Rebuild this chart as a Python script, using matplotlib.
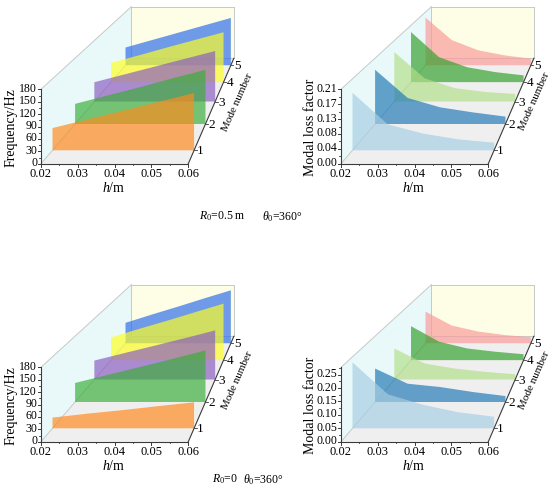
"""Natural frequency and modal loss factor vs. thickness h, pseudo-3D perspective panels."""
import matplotlib
matplotlib.use("Agg")
import matplotlib.pyplot as plt

plt.rcParams["font.family"] = ["Liberation Serif", "DejaVu Serif"]
plt.rcParams["mathtext.fontset"] = "custom"
plt.rcParams["mathtext.rm"] = "Liberation Serif"
plt.rcParams["mathtext.it"] = "Liberation Serif:italic"

# ---------- data ----------
H_VALUES = [0.02, 0.03, 0.04, 0.05, 0.06]
MODES = [1, 2, 3, 4, 5]

# frequency / Hz, one row per mode
FREQ_R05 = [
    [56, 78, 100, 122, 144],
    [55, 78, 101, 125, 148],
    [57, 80, 103, 126, 149],
    [61, 85, 110, 134, 158],
    [60, 85, 110, 135, 160],
]
FREQ_R0 = [
    [27, 37, 46, 56, 65.5],
    [52, 74, 96, 118, 141],
    [56, 78, 100, 122, 145],
    [72, 99, 125, 152, 179],
    [69, 97, 124, 152, 179],
]
# modal loss factor, one row per mode
LOSS_R05 = [
    [0.169, 0.076, 0.049, 0.032, 0.0225],
    [0.173, 0.083, 0.053, 0.037, 0.0235],
    [0.170, 0.080, 0.046, 0.033, 0.026],
    [0.185, 0.092, 0.055, 0.037, 0.025],
    [0.188, 0.099, 0.059, 0.039, 0.026],
]
LOSS_R0 = [
    [0.256, 0.132, 0.091, 0.062, 0.045],
    [0.141, 0.077, 0.063, 0.042, 0.025],
    [0.141, 0.073, 0.050, 0.035, 0.024],
    [0.166, 0.090, 0.057, 0.041, 0.029],
    [0.165, 0.092, 0.061, 0.043, 0.031],
]

FREQ_TICKS = [0, 30, 60, 90, 120, 150, 180]
LOSS_TICKS_R05 = [0, 0.042, 0.084, 0.126, 0.168, 0.21]
LOSS_LABELS_R05 = ["0.00", "0.04", "0.08", "0.13", "0.17", "0.21"]
LOSS_TICKS_R0 = [0, 0.05, 0.10, 0.15, 0.20, 0.25]
LOSS_LABELS_R0 = ["0.00", "0.05", "0.10", "0.15", "0.20", "0.25"]
X_TICKS = [0.02, 0.03, 0.04, 0.05, 0.06]

FREQ_COLORS = ["#ff8a1c", "#3aae3a", "#8a5cc0", "#ffff22", "#2a6be8"]
LOSS_COLORS = ["#a6cee3", "#1f78b4", "#b2df8a", "#33a02c", "#fb9a99"]

# ---------- projection geometry (pixels) ----------
FRONT_W = 147.3
FRONT_H = 74.4
VP_OFF = (296.7, -345.7)   # vanishing point relative to front-left-bottom corner
K_DEPTH = 0.0895
M_FRONT, M_BACK = 0.55, 5.45
H_MIN, H_MAX = 0.02, 0.06

AXIS_COL = "#3a3a3a"
EDGE_COL = "#c4caca"


def project(h, m, z, ox, oy, zmax):
    px = ox + (h - H_MIN) / (H_MAX - H_MIN) * FRONT_W
    py = oy - z / zmax * FRONT_H
    s = 1.0 / (1.0 + K_DEPTH * (m - M_FRONT))
    vx, vy = ox + VP_OFF[0], oy + VP_OFF[1]
    return vx + (px - vx) * s, vy + (py - vy) * s


def poly(ax, pts, **kw):
    xs, ys = zip(*pts)
    ax.fill(xs, ys, **kw)


def draw_panel(ax, ox, oy, zmax, data, colors, zticks, zlabels, ylabel, mode_lab_off):
    P = lambda h, m, z: project(h, m, z, ox, oy, zmax)
    # panes
    poly(ax, [P(H_MIN, M_FRONT, 0), P(H_MAX, M_FRONT, 0), P(H_MAX, M_BACK, 0),
              P(H_MIN, M_BACK, 0)], color="#efefef", lw=0, zorder=1)
    poly(ax, [P(H_MIN, M_FRONT, 0), P(H_MIN, M_FRONT, zmax), P(H_MIN, M_BACK, zmax),
              P(H_MIN, M_BACK, 0)], color="#e9f9f9", lw=0, zorder=1)
    poly(ax, [P(H_MIN, M_BACK, 0), P(H_MAX, M_BACK, 0), P(H_MAX, M_BACK, zmax),
              P(H_MIN, M_BACK, zmax)], color="#fefee6", lw=0, zorder=1)
    # pane edges
    edges = [
        ((H_MIN, M_FRONT, zmax), (H_MIN, M_BACK, zmax)),
        ((H_MIN, M_FRONT, 0), (H_MIN, M_BACK, 0)),
        ((H_MIN, M_BACK, zmax), (H_MAX, M_BACK, zmax)),
        ((H_MAX, M_BACK, zmax), (H_MAX, M_BACK, 0)),
        ((H_MIN, M_BACK, 0), (H_MAX, M_BACK, 0)),
        ((H_MIN, M_BACK, 0), (H_MIN, M_BACK, zmax)),
    ]
    for a, b in edges:
        (x0, y0), (x1, y1) = P(*a), P(*b)
        ax.plot([x0, x1], [y0, y1], color=EDGE_COL, lw=0.7, zorder=2)

    # filled curves, back to front
    for i in reversed(range(len(MODES))):
        m = MODES[i]
        top = [P(h, m, v) for h, v in zip(H_VALUES, data[i])]
        base = [P(h, m, 0) for h in reversed(H_VALUES)]
        poly(ax, top + base, color=colors[i], alpha=0.68, lw=0, zorder=3 + (5 - i))

    # z axis
    (x0, y0), (x1, y1) = P(H_MIN, M_FRONT, 0), P(H_MIN, M_FRONT, zmax)
    ax.plot([x0, x1], [y0, y1], color=AXIS_COL, lw=0.8, zorder=10)
    step = zticks[1] - zticks[0]
    for t, lab in zip(zticks, zlabels):
        x, y = P(H_MIN, M_FRONT, t)
        ax.plot([x - 3, x], [y, y], color=AXIS_COL, lw=0.7, zorder=10)
        ax.text(x - 4, y - 0.5, lab, ha="right", va="center", fontsize=8.5, zorder=10)
        if t + step / 2 <= zmax + 1e-9:
            x, ym = P(H_MIN, M_FRONT, t + step / 2)
            ax.plot([x - 1.6, x], [ym, ym], color=AXIS_COL, lw=0.6, zorder=10)
    ax.text(ox - 30, oy - 36, ylabel, rotation=90, ha="center", va="center",
            fontsize=10, zorder=10)

    # x axis
    (x0, y0), (x1, y1) = P(H_MIN, M_FRONT, 0), P(H_MAX, M_FRONT, 0)
    ax.plot([x0, x1], [y0, y1], color=AXIS_COL, lw=0.8, zorder=10)
    for j, t in enumerate(X_TICKS):
        x, y = P(t, M_FRONT, 0)
        ax.plot([x, x], [y, y + 3], color=AXIS_COL, lw=0.7, zorder=10)
        ax.text(x, y + 10.5, f"{t:.2f}", ha="center", va="center", fontsize=9, zorder=10)
        if j < len(X_TICKS) - 1:
            xm, _ = P(t + 0.005, M_FRONT, 0)
            ax.plot([xm, xm], [y, y + 1.6], color=AXIS_COL, lw=0.6, zorder=10)
    ax.text(ox + 73, oy + 24, r"$h$/m", ha="center", va="center", fontsize=10, zorder=10)

    # mode axis
    (x0, y0), (x1, y1) = P(H_MAX, M_FRONT, 0), P(H_MAX, M_BACK, 0)
    ax.plot([x0, x1], [y0, y1], color=AXIS_COL, lw=0.8, zorder=10)
    for m in MODES:
        x, y = P(H_MAX, m, 0)
        ax.plot([x, x + 2.5], [y, y], color=AXIS_COL, lw=0.6, zorder=10)
        ax.text(x + 6.5, y + 1, str(m), ha="center", va="center", fontsize=9.5, zorder=10)
    ax.text(ox + mode_lab_off[0], oy + mode_lab_off[1], "Mode number", rotation=66,
            rotation_mode="anchor", ha="center", va="center", fontsize=8, zorder=10)


fig = plt.figure(figsize=(5.5, 4.96), dpi=100)
ax = fig.add_axes([0, 0, 1, 1])
ax.set_xlim(0, 550)
ax.set_ylim(496, 0)
ax.axis("off")

draw_panel(ax, 41, 163.7, 180, FREQ_R05, FREQ_COLORS, FREQ_TICKS,
           [str(t) for t in FREQ_TICKS], "Frequency/Hz", (196, -61))
draw_panel(ax, 341, 163.7, 0.21, LOSS_R05, LOSS_COLORS, LOSS_TICKS_R05,
           LOSS_LABELS_R05, "Modal loss factor", (193.5, -62))
draw_panel(ax, 41, 441.7, 180, FREQ_R0, FREQ_COLORS, FREQ_TICKS,
           [str(t) for t in FREQ_TICKS], "Frequency/Hz", (196, -61))
draw_panel(ax, 341, 441.7, 0.2776, LOSS_R0, LOSS_COLORS, LOSS_TICKS_R0,
           LOSS_LABELS_R0, "Modal loss factor", (193.5, -61))

ax.text(199, 216.5, r"$R_{\mathit{0}}$=0.5 m", ha="left", va="center", fontsize=8.5)
ax.text(262.5, 216.5, r"$\theta_{\mathit{0}}$=360°", ha="left", va="center", fontsize=8.5)
ax.text(211.5, 479.3, r"$R_{\mathit{0}}$=0", ha="left", va="center", fontsize=8.5)
ax.text(243.3, 479.3, r"$\theta_{\mathit{0}}$=360°", ha="left", va="center", fontsize=8.5)

fig.savefig("out.png", dpi=100)
